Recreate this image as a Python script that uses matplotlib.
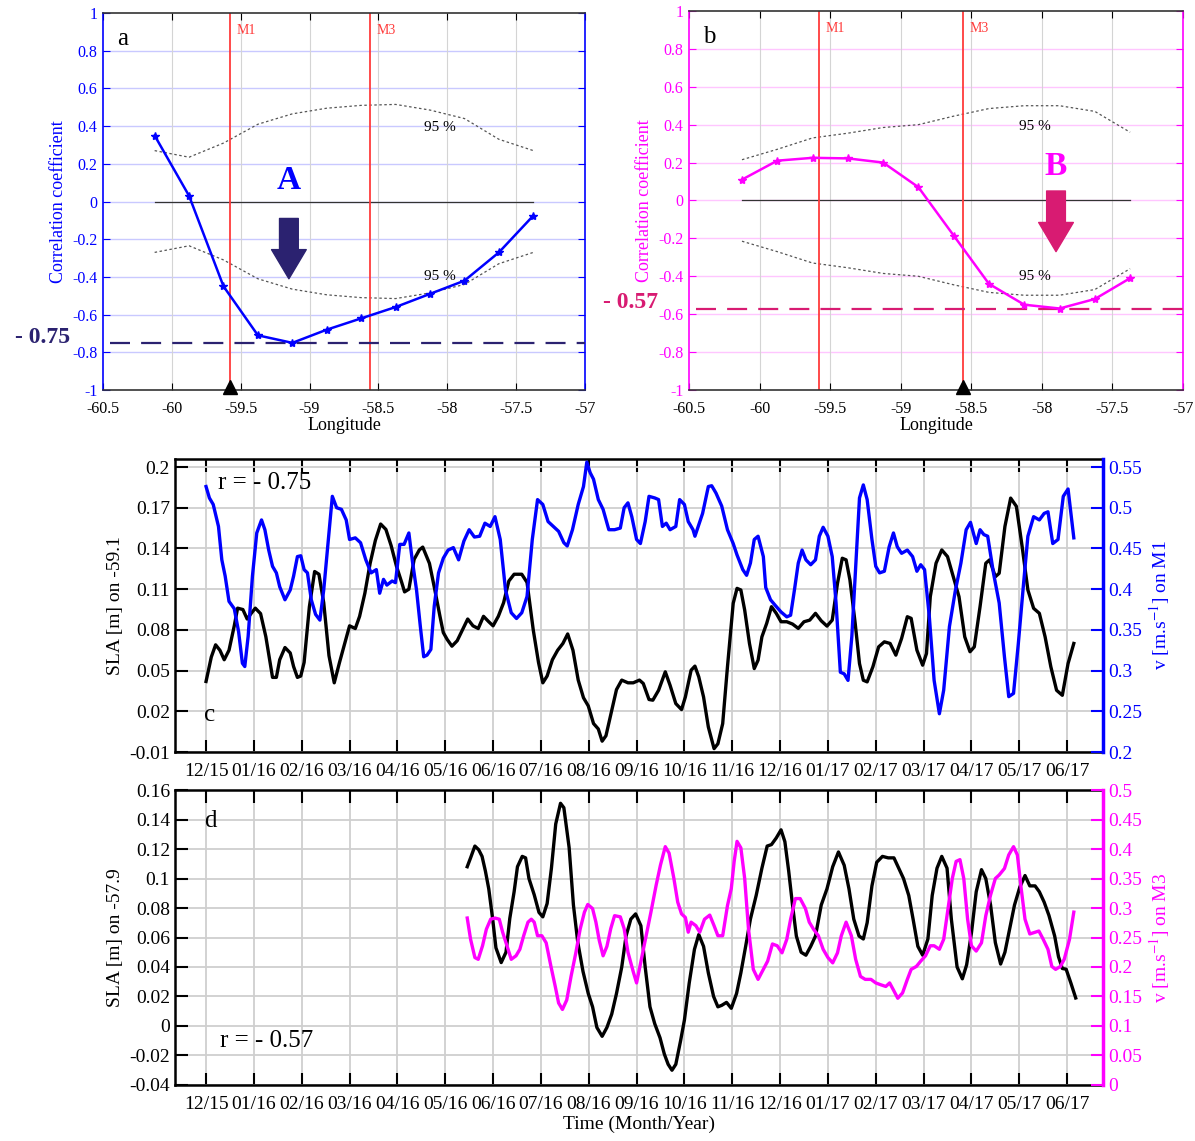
import matplotlib.pyplot as plt

plt.rcParams['font.family'] = ['Liberation Serif', 'DejaVu Serif']
plt.rcParams['mathtext.fontset'] = 'stix'

BLUE = '#0000ff'
MAGENTA = '#ff00ff'
NAVY = '#2b2270'
CRIMSON = '#d81b72'
RED = '#ff3b3b'

# --- correlation along the section -------------------------------------
lon = [-60.125, -59.875, -59.625, -59.375, -59.125, -58.875,
       -58.625, -58.375, -58.125, -57.875, -57.625, -57.375]
corr_m1 = [0.35, 0.03, -0.45, -0.71, -0.75, -0.68,
           -0.62, -0.56, -0.49, -0.42, -0.27, -0.075]
sig_m1 = [0.27, 0.235, 0.31, 0.41, 0.465, 0.495,
          0.51, 0.515, 0.485, 0.44, 0.33, 0.27]
corr_m3 = [0.11, 0.21, 0.225, 0.222, 0.20, 0.07,
           -0.185, -0.44, -0.55, -0.57, -0.52, -0.41]
sig_m3 = [0.215, 0.27, 0.33, 0.355, 0.385, 0.40,
          0.445, 0.485, 0.50, 0.50, 0.47, 0.36]
lon_m1, lon_m3 = -59.58, -58.56
r_m1, r_m3 = -0.75, -0.57

# --- time series (x = months since Dec 2015) ----------------------------
months = ['12/15', '01/16', '02/16', '03/16', '04/16', '05/16', '06/16',
          '07/16', '08/16', '09/16', '10/16', '11/16', '12/16', '01/17',
          '02/17', '03/17', '04/17', '05/17', '06/17']

sla1_t = [0.0, 0.11, 0.2, 0.29, 0.38, 0.48, 0.59, 0.66, 0.77, 0.86, 0.94, 1.03,
          1.14, 1.25, 1.39, 1.47, 1.54, 1.65, 1.76, 1.83, 1.91, 1.98, 2.05, 2.16,
          2.27, 2.36, 2.46, 2.57, 2.68, 2.79, 2.9, 3.0, 3.12, 3.21, 3.32, 3.43,
          3.54, 3.65, 3.76, 3.87, 3.98, 4.09, 4.15, 4.24, 4.35, 4.46, 4.53, 4.67,
          4.78, 4.89, 4.96, 5.04, 5.14, 5.25, 5.36, 5.47, 5.58, 5.69, 5.8, 5.91,
          6.0, 6.11, 6.22, 6.33, 6.44, 6.6, 6.71, 6.84, 6.95, 7.04, 7.13, 7.24,
          7.35, 7.46, 7.56, 7.67, 7.78, 7.89, 7.99, 8.1, 8.2, 8.28, 8.36, 8.47,
          8.58, 8.69, 8.82, 8.93, 9.06, 9.14, 9.26, 9.34, 9.46, 9.6, 9.7, 9.82,
          9.94, 10.02, 10.14, 10.22, 10.3, 10.4, 10.5, 10.62, 10.7, 10.8, 10.9,
          11.02, 11.1, 11.18, 11.26, 11.36, 11.46, 11.54, 11.62, 11.72, 11.82,
          11.92, 12.02, 12.14, 12.26, 12.38, 12.5, 12.62, 12.74, 12.86, 12.98,
          13.09, 13.2, 13.3, 13.38, 13.46, 13.57, 13.66, 13.74, 13.82, 13.94,
          14.06, 14.18, 14.3, 14.42, 14.54, 14.66, 14.74, 14.86, 14.98, 15.06,
          15.14, 15.26, 15.38, 15.5, 15.62, 15.74, 15.86, 15.97, 16.06, 16.18,
          16.3, 16.38, 16.5, 16.58, 16.7, 16.82, 16.94, 17.06, 17.18, 17.3,
          17.42, 17.54, 17.66, 17.78, 17.9, 18.02, 18.14]
sla1 = [0.042, 0.060, 0.069, 0.065, 0.058, 0.065, 0.083, 0.096, 0.095, 0.088,
        0.092, 0.096, 0.092, 0.075, 0.045, 0.045, 0.058, 0.067, 0.063, 0.053,
        0.045, 0.046, 0.056, 0.097, 0.123, 0.121, 0.100, 0.061, 0.041, 0.056,
        0.070, 0.083, 0.081, 0.090, 0.107, 0.129, 0.146, 0.158, 0.154, 0.142,
        0.127, 0.115, 0.108, 0.110, 0.132, 0.139, 0.141, 0.129, 0.110, 0.090,
        0.078, 0.073, 0.068, 0.072, 0.080, 0.088, 0.083, 0.081, 0.090, 0.086,
        0.083, 0.090, 0.100, 0.116, 0.121, 0.121, 0.115, 0.080, 0.056, 0.041,
        0.046, 0.058, 0.065, 0.070, 0.077, 0.065, 0.043, 0.030, 0.024, 0.011,
        0.007, -0.002, 0.002, 0.019, 0.036, 0.043, 0.041, 0.041, 0.043, 0.0405,
        0.0287, 0.0282, 0.0355, 0.0491, 0.0392, 0.0257, 0.0213, 0.0306, 0.0503,
        0.0533, 0.0454, 0.0306, 0.0085, -0.0075, -0.0039, 0.0109, 0.0528,
        0.0996, 0.1106, 0.1094, 0.0946, 0.070, 0.0515, 0.0577, 0.0749, 0.0848,
        0.0971, 0.0922, 0.086, 0.086, 0.0843, 0.0811, 0.086, 0.0872, 0.0922,
        0.0867, 0.0828, 0.0872, 0.1143, 0.1328, 0.1316, 0.1168, 0.0848, 0.0552,
        0.0429, 0.0417, 0.0528, 0.0675, 0.0712, 0.070, 0.0614, 0.0737, 0.0897,
        0.0885, 0.0651, 0.054, 0.0626, 0.1045, 0.1291, 0.1389, 0.134, 0.1192,
        0.1045, 0.0749, 0.0639, 0.0675, 0.0971, 0.1291, 0.1316, 0.1192, 0.1217,
        0.1562, 0.1771, 0.171, 0.1414, 0.1094, 0.0959, 0.0922, 0.0749, 0.0528,
        0.0355, 0.0318, 0.0552, 0.070]

v1_t = [0.0, 0.07, 0.15, 0.26, 0.33, 0.4, 0.48, 0.59, 0.68, 0.76, 0.81, 0.88,
        0.97, 1.06, 1.16, 1.23, 1.31, 1.39, 1.47, 1.54, 1.65, 1.76, 1.83, 1.91,
        1.98, 2.05, 2.12, 2.2, 2.29, 2.38, 2.46, 2.57, 2.64, 2.73, 2.83, 2.93,
        3.0, 3.12, 3.23, 3.34, 3.45, 3.56, 3.63, 3.71, 3.78, 3.89, 3.96, 4.05,
        4.14, 4.24, 4.31, 4.4, 4.48, 4.55, 4.62, 4.7, 4.77, 4.86, 4.96, 5.06,
        5.17, 5.28, 5.39, 5.5, 5.61, 5.72, 5.83, 5.94, 6.04, 6.15, 6.26, 6.38,
        6.49, 6.6, 6.71, 6.82, 6.93, 7.04, 7.15, 7.26, 7.37, 7.48, 7.55, 7.66,
        7.78, 7.89, 7.96, 8.03, 8.1, 8.2, 8.3, 8.42, 8.54, 8.66, 8.74, 8.82,
        8.9, 9.0, 9.08, 9.18, 9.26, 9.38, 9.46, 9.54, 9.62, 9.7, 9.82, 9.9,
        10.0, 10.08, 10.18, 10.22, 10.3, 10.38, 10.5, 10.57, 10.66, 10.78,
        10.9, 11.02, 11.1, 11.22, 11.3, 11.38, 11.46, 11.54, 11.65, 11.7, 11.8,
        11.9, 12.02, 12.14, 12.22, 12.3, 12.38, 12.46, 12.54, 12.64, 12.74,
        12.82, 12.9, 13.0, 13.09, 13.17, 13.26, 13.34, 13.42, 13.5, 13.58,
        13.66, 13.74, 13.82, 13.92, 14.0, 14.08, 14.18, 14.28, 14.37, 14.45,
        14.54, 14.66, 14.77, 14.86, 14.94, 15.02, 15.12, 15.22, 15.33, 15.42,
        15.54, 15.66, 15.78, 15.89, 15.98, 16.1, 16.18, 16.26, 16.34, 16.46,
        16.58, 16.69, 16.78, 16.88, 16.98, 17.09, 17.18, 17.3, 17.42, 17.52,
        17.6, 17.7, 17.81, 17.92, 18.02, 18.14]
v1 = [0.526, 0.512, 0.504, 0.477, 0.436, 0.416, 0.385, 0.376, 0.348, 0.309,
      0.305, 0.342, 0.416, 0.469, 0.485, 0.473, 0.448, 0.428, 0.420, 0.403,
      0.387, 0.399, 0.416, 0.440, 0.441, 0.424, 0.420, 0.387, 0.369, 0.362,
      0.399, 0.469, 0.514, 0.500, 0.498, 0.485, 0.461, 0.463, 0.457, 0.436,
      0.420, 0.424, 0.395, 0.412, 0.405, 0.410, 0.408, 0.455, 0.455, 0.469,
      0.436, 0.399, 0.354, 0.317, 0.319, 0.326, 0.379, 0.420, 0.438, 0.448,
      0.451, 0.436, 0.459, 0.473, 0.464, 0.465, 0.481, 0.477, 0.489, 0.461,
      0.399, 0.371, 0.364, 0.371, 0.391, 0.461, 0.510, 0.504, 0.483, 0.477,
      0.471, 0.457, 0.453, 0.473, 0.504, 0.526, 0.556, 0.543, 0.535, 0.510,
      0.498, 0.473, 0.473, 0.475, 0.500, 0.506, 0.489, 0.461, 0.456, 0.483,
      0.514, 0.512, 0.510, 0.477, 0.481, 0.473, 0.477, 0.510, 0.504, 0.483,
      0.473, 0.465, 0.479, 0.493, 0.526, 0.527, 0.518, 0.502, 0.473, 0.456,
      0.442, 0.424, 0.417, 0.432, 0.461, 0.465, 0.440, 0.402, 0.387, 0.380,
      0.372, 0.366, 0.368, 0.399, 0.432, 0.448, 0.436, 0.430, 0.436, 0.465,
      0.476, 0.465, 0.440, 0.383, 0.298, 0.296, 0.288, 0.342, 0.428, 0.512,
      0.528, 0.510, 0.461, 0.428, 0.420, 0.422, 0.452, 0.469, 0.452, 0.444,
      0.448, 0.440, 0.422, 0.430, 0.424, 0.366, 0.288, 0.247, 0.276, 0.354,
      0.397, 0.432, 0.473, 0.482, 0.456, 0.473, 0.467, 0.465, 0.420, 0.383,
      0.317, 0.268, 0.272, 0.333, 0.407, 0.465, 0.489, 0.485, 0.493, 0.495,
      0.456, 0.461, 0.514, 0.523, 0.463]

sla3_t = [5.46, 5.53, 5.62, 5.7, 5.77, 5.84, 5.91, 5.99, 6.06, 6.17, 6.27,
          6.35, 6.44, 6.51, 6.61, 6.68, 6.75, 6.86, 6.96, 7.04, 7.13, 7.22,
          7.31, 7.41, 7.48, 7.59, 7.68, 7.77, 7.88, 7.99, 8.08, 8.17, 8.28,
          8.38, 8.48, 8.58, 8.69, 8.78, 8.88, 8.98, 9.09, 9.18, 9.28, 9.38,
          9.49, 9.58, 9.66, 9.74, 9.82, 9.92, 10.0, 10.1, 10.21, 10.3, 10.4,
          10.5, 10.61, 10.7, 10.78, 10.88, 10.98, 11.09, 11.18, 11.28, 11.38,
          11.5, 11.62, 11.73, 11.82, 11.92, 12.02, 12.1, 12.18, 12.26, 12.34,
          12.44, 12.54, 12.64, 12.74, 12.86, 12.98, 13.1, 13.22, 13.34, 13.44,
          13.54, 13.65, 13.74, 13.82, 13.92, 14.02, 14.14, 14.26, 14.38, 14.48,
          14.58, 14.69, 14.78, 14.88, 14.98, 15.09, 15.18, 15.28, 15.38, 15.49,
          15.58, 15.7, 15.81, 15.9, 16.0, 16.1, 16.21, 16.3, 16.4, 16.5, 16.61,
          16.7, 16.8, 16.9, 17.01, 17.12, 17.22, 17.33, 17.42, 17.52, 17.62,
          17.74, 17.82, 17.9, 17.98, 18.08, 18.18]
sla3 = [0.108, 0.114, 0.122, 0.1195, 0.115, 0.105, 0.093, 0.073, 0.053, 0.043,
        0.050, 0.073, 0.091, 0.108, 0.115, 0.114, 0.100, 0.089, 0.077, 0.074,
        0.083, 0.107, 0.137, 0.151, 0.148, 0.121, 0.082, 0.057, 0.037, 0.022,
        0.013, -0.001, -0.007, -0.001, 0.008, 0.022, 0.040, 0.061, 0.0725,
        0.076, 0.068, 0.040, 0.013, 0.0015, -0.008, -0.019, -0.026, -0.030,
        -0.026, -0.010, 0.004, 0.029, 0.052, 0.062, 0.054, 0.036, 0.020, 0.013,
        0.014, 0.016, 0.012, 0.022, 0.036, 0.054, 0.0725, 0.0885, 0.107, 0.122,
        0.123, 0.1275, 0.133, 0.125, 0.105, 0.082, 0.061, 0.050, 0.048, 0.054,
        0.061, 0.082, 0.093, 0.108, 0.118, 0.109, 0.093, 0.0725, 0.061, 0.059,
        0.070, 0.095, 0.111, 0.115, 0.114, 0.114, 0.107, 0.100, 0.0885, 0.0725,
        0.054, 0.048, 0.059, 0.0885, 0.107, 0.115, 0.107, 0.0725, 0.040, 0.032,
        0.0415, 0.063, 0.091, 0.106, 0.100, 0.082, 0.0565, 0.042, 0.050, 0.066,
        0.082, 0.094, 0.102, 0.095, 0.095, 0.091, 0.084, 0.075, 0.061, 0.047,
        0.039, 0.0385, 0.029, 0.019]

v3_t = [5.46, 5.53, 5.62, 5.69, 5.78, 5.86, 5.95, 6.04, 6.13, 6.2, 6.29, 6.38,
        6.48, 6.56, 6.64, 6.73, 6.8, 6.86, 6.93, 7.02, 7.11, 7.21, 7.3, 7.37,
        7.45, 7.54, 7.63, 7.73, 7.82, 7.91, 7.98, 8.08, 8.15, 8.22, 8.3, 8.38,
        8.46, 8.54, 8.66, 8.74, 8.82, 8.93, 9.0, 9.1, 9.2, 9.3, 9.41, 9.5, 9.6,
        9.68, 9.78, 9.86, 9.94, 10.02, 10.08, 10.14, 10.24, 10.32, 10.42, 10.53,
        10.62, 10.7, 10.8, 10.9, 10.98, 11.04, 11.1, 11.18, 11.26, 11.34, 11.44,
        11.54, 11.65, 11.74, 11.84, 11.94, 12.04, 12.14, 12.22, 12.32, 12.42,
        12.53, 12.61, 12.7, 12.8, 12.9, 13.0, 13.1, 13.2, 13.28, 13.38, 13.49,
        13.58, 13.68, 13.78, 13.9, 14.0, 14.1, 14.21, 14.29, 14.37, 14.46,
        14.56, 14.66, 14.74, 14.85, 14.94, 15.04, 15.14, 15.22, 15.33, 15.42,
        15.5, 15.6, 15.68, 15.76, 15.84, 15.92, 16.0, 16.1, 16.21, 16.3, 16.4,
        16.5, 16.58, 16.69, 16.78, 16.88, 16.96, 17.04, 17.12, 17.22, 17.33,
        17.41, 17.5, 17.6, 17.68, 17.76, 17.86, 17.94, 18.05, 18.14]
v3 = [0.283, 0.247, 0.216, 0.213, 0.236, 0.264, 0.281, 0.283, 0.281, 0.259,
      0.236, 0.213, 0.219, 0.230, 0.253, 0.276, 0.281, 0.276, 0.253, 0.253,
      0.241, 0.201, 0.167, 0.139, 0.128, 0.144, 0.184, 0.224, 0.264, 0.293,
      0.306, 0.299, 0.276, 0.245, 0.219, 0.235, 0.265, 0.287, 0.285, 0.265,
      0.225, 0.192, 0.173, 0.213, 0.253, 0.293, 0.339, 0.373, 0.404, 0.393,
      0.350, 0.310, 0.290, 0.284, 0.259, 0.276, 0.270, 0.259, 0.281, 0.288,
      0.270, 0.253, 0.253, 0.304, 0.333, 0.379, 0.413, 0.402, 0.350, 0.264,
      0.196, 0.179, 0.196, 0.210, 0.239, 0.236, 0.224, 0.247, 0.281, 0.316,
      0.316, 0.299, 0.276, 0.264, 0.253, 0.230, 0.216, 0.207, 0.224, 0.253,
      0.276, 0.253, 0.213, 0.184, 0.179, 0.179, 0.173, 0.170, 0.167, 0.173,
      0.161, 0.147, 0.156, 0.179, 0.196, 0.201, 0.210, 0.219, 0.236, 0.236,
      0.230, 0.247, 0.293, 0.350, 0.379, 0.382, 0.350, 0.281, 0.236, 0.227,
      0.241, 0.287, 0.322, 0.350, 0.356, 0.367, 0.390, 0.404, 0.390, 0.333,
      0.281, 0.256, 0.259, 0.261, 0.247, 0.230, 0.201, 0.196, 0.201, 0.213,
      0.247, 0.293]

fig = plt.figure(figsize=(11.95, 11.41), dpi=100)


def corr_panel(rect, color, hgrid, corr, sig, mark_lon, r, rcolor, letter,
               big, big_xy, arrow_x, arrow_y, r_x):
    ax = fig.add_axes(rect)
    ax.set_xlim(-60.5, -57)
    ax.set_ylim(-1, 1)
    yt = [-1, -0.8, -0.6, -0.4, -0.2, 0, 0.2, 0.4, 0.6, 0.8, 1]
    ax.set_yticks(yt)
    ax.set_yticklabels(['-1', '-0.8', '-0.6', '-0.4', '-0.2', '0',
                        '0.2', '0.4', '0.6', '0.8', '1'])
    xt = [-60.5, -60, -59.5, -59, -58.5, -58, -57.5, -57]
    ax.set_xticks(xt)
    ax.set_xticklabels(['-60.5', '-60', '-59.5', '-59', '-58.5', '-58',
                        '-57.5', '-57'])
    for y in yt[1:-1]:
        ax.axhline(y, color=hgrid, lw=1.0, zorder=0)
    for x in xt[1:-1]:
        ax.axvline(x, color='#d4d4d4', lw=0.8, zorder=0)
    ax.tick_params(axis='y', colors=color, labelsize=11.5, direction='in',
                   right=True, length=5, pad=4)
    ax.tick_params(axis='x', colors='black', labelsize=11.5, direction='in',
                   top=True, length=5, pad=8)
    for s in ['left', 'right']:
        ax.spines[s].set_color(color)
        ax.spines[s].set_linewidth(1.2)
    for s in ['top', 'bottom']:
        ax.spines[s].set_color('#333333')
        ax.spines[s].set_linewidth(1.2)
    ax.set_xlabel('Longitude', fontsize=13, labelpad=0)
    ax.set_ylabel('Correlation coefficient', fontsize=13, color=color,
                  labelpad=4)

    # 95 % significance envelope and zero line
    ax.plot(lon, sig, color='#555555', ls=(0, (2, 2)), lw=0.9)
    ax.plot(lon, [-s for s in sig], color='#555555', ls=(0, (2, 2)), lw=0.9)
    ax.plot([lon[0], lon[-1]], [0, 0], color='#333333', lw=0.9)
    ax.text(-58.05, 0.39, '95 %', fontsize=11, ha='center', va='center')
    ax.text(-58.05, -0.40, '95 %', fontsize=11, ha='center', va='center')

    # mooring positions
    ax.axvline(lon_m1, color=RED, lw=1.3)
    ax.axvline(lon_m3, color=RED, lw=1.3)
    ax.text(lon_m1 + 0.05, 0.89, 'M1', color=RED, fontsize=10)
    ax.text(lon_m3 + 0.05, 0.89, 'M3', color=RED, fontsize=10)
    ax.plot([mark_lon], [-0.985], marker='^', color='black', ms=10,
            clip_on=False, zorder=5)

    ax.plot(lon, corr, color=color, lw=1.8, marker='*', ms=6, zorder=4)

    ax.plot([-60.45, -57], [r, r], color=rcolor, lw=1.6,
            dashes=(9, 5), zorder=3)
    ax.text(r_x, r + 0.03, '- %.2f' % abs(r), color=rcolor, fontsize=17,
            fontweight='bold', ha='right', va='center', clip_on=False)

    ax.text(-60.4, 0.83, letter, fontsize=18)
    ax.text(big_xy[0], big_xy[1], big, color=color,
            fontsize=24, fontweight='bold', ha='center', va='center')
    ax.annotate('', xy=(arrow_x, arrow_y[1]), xytext=(arrow_x, arrow_y[0]),
                arrowprops=dict(arrowstyle='simple,head_length=2.1,'
                                'head_width=2.5,tail_width=1.35',
                                color=rcolor, mutation_scale=10,
                                shrinkA=0, shrinkB=0))
    return ax


corr_panel([0.0862, 0.6582, 0.4033, 0.3304], BLUE, '#c9c9ff', corr_m1, sig_m1,
           lon_m1, r_m1, NAVY, 'a', 'A', (-59.15, 0.11), -59.15, (-0.09, -0.41),
           -60.74)
corr_panel([0.5766, 0.6582, 0.4134, 0.3322], MAGENTA, '#ffc6ff', corr_m3,
           sig_m3, lon_m3, r_m3, CRIMSON, 'b', 'B', (-57.9, 0.18), -57.9,
           (0.05, -0.27), -60.72)


def series_panel(rect, sla_t, sla, v_t, v, color, yl, yt, ytl, vl, vt, vtl,
                 sla_label, v_label):
    ax = fig.add_axes(rect)
    ax.set_xlim(-0.65, 18.75)
    ax.set_ylim(*yl)
    ax.set_xticks(range(len(months)))
    ax.set_xticklabels(months)
    ax.set_yticks(yt)
    ax.set_yticklabels(ytl)
    ax.grid(True, color='#cfcfcf', lw=1.3)
    ax.set_axisbelow(True)
    ax.tick_params(axis='both', labelsize=14, direction='in', length=9,
                   width=1.5, top=True)
    ax.tick_params(axis='x', pad=8)
    for s in ['left', 'top', 'bottom']:
        ax.spines[s].set_linewidth(1.8)
    ax.spines['right'].set_visible(False)
    ax.set_ylabel(sla_label, fontsize=14)
    ax.plot(sla_t, sla, color='black', lw=2.4, zorder=3)

    ax2 = ax.twinx()
    ax2.set_ylim(*vl)
    ax2.set_yticks(vt)
    ax2.set_yticklabels(vtl)
    ax2.tick_params(axis='y', colors=color, labelsize=14, direction='in',
                    length=9, width=1.5)
    ax2.spines['right'].set_color(color)
    ax2.spines['right'].set_linewidth(2.5)
    for s in ['left', 'top', 'bottom']:
        ax2.spines[s].set_visible(False)
    ax2.set_ylabel(v_label, fontsize=14, color=color)
    ax2.plot(v_t, v, color=color, lw=2.4, zorder=2)
    return ax, ax2


axc, _ = series_panel(
    [0.1464, 0.3409, 0.7766, 0.2568], sla1_t, sla1, v1_t, v1, BLUE,
    (-0.01, 0.2059), [-0.01, 0.02, 0.05, 0.08, 0.11, 0.14, 0.17, 0.2],
    ['-0.01', '0.02', '0.05', '0.08', '0.11', '0.14', '0.17', '0.2'],
    (0.2, 0.5598), [0.2, 0.25, 0.3, 0.35, 0.4, 0.45, 0.5, 0.55],
    ['0.2', '0.25', '0.3', '0.35', '0.4', '0.45', '0.5', '0.55'],
    'SLA [m] on -59.1', r'v [m.s$^{-1}$] on M1')
axc.text(0.25, 0.188, 'r = - 0.75', fontsize=18, va='center')
axc.text(-0.05, 0.017, 'c', fontsize=18, va='center')

axd, _ = series_panel(
    [0.1464, 0.0491, 0.7766, 0.2585], sla3_t, sla3, v3_t, v3, MAGENTA,
    (-0.04, 0.16), [-0.04, -0.02, 0, 0.02, 0.04, 0.06, 0.08, 0.1, 0.12,
                    0.14, 0.16],
    ['-0.04', '-0.02', '0', '0.02', '0.04', '0.06', '0.08', '0.1', '0.12',
     '0.14', '0.16'],
    (0, 0.5), [0, 0.05, 0.1, 0.15, 0.2, 0.25, 0.3, 0.35, 0.4, 0.45, 0.5],
    ['0', '0.05', '0.1', '0.15', '0.2', '0.25', '0.3', '0.35', '0.4',
     '0.45', '0.5'],
    'SLA [m] on -57.9', r'v [m.s$^{-1}$] on M3')
axd.text(0.3, -0.01, 'r = - 0.57', fontsize=18, va='center')
axd.text(-0.05, 0.139, 'd', fontsize=18, va='center')
axd.set_xlabel('Time (Month/Year)', fontsize=14, labelpad=2)

fig.savefig('out.png', dpi=100)
